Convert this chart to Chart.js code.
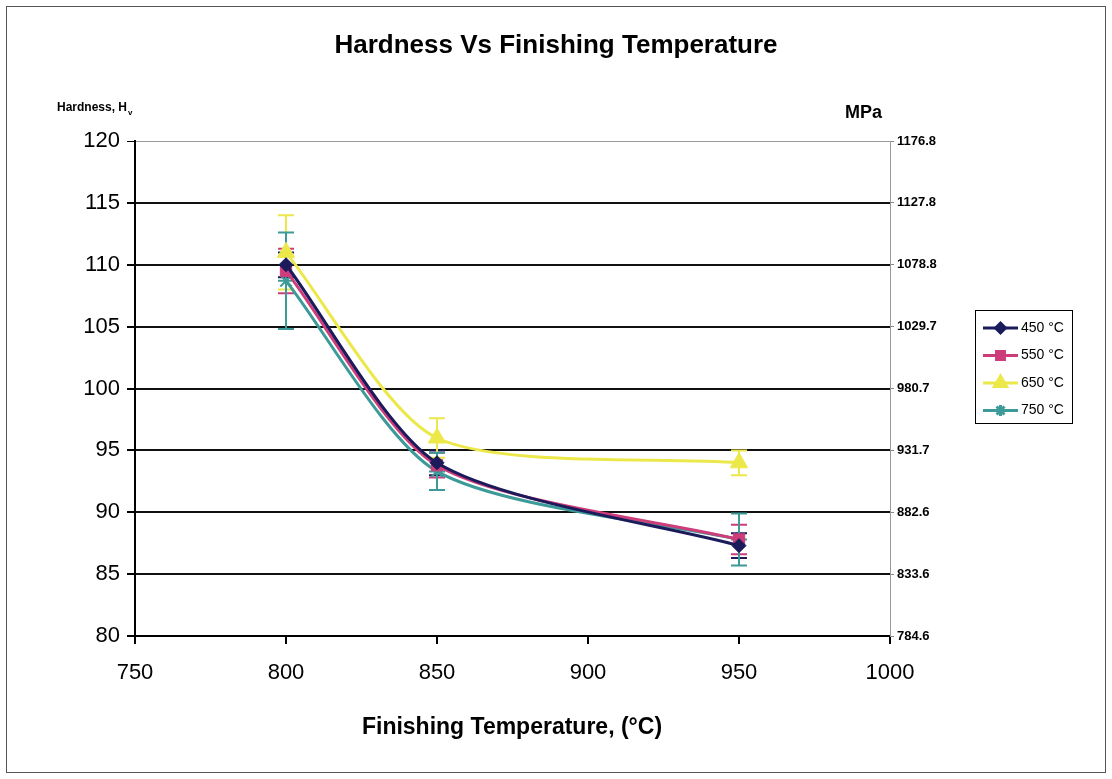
<!DOCTYPE html>
<html>
<head>
<meta charset="utf-8">
<script src="https://cdn.jsdelivr.net/npm/chart.js@4/dist/chart.umd.min.js"></script>
<style>
  html, body { margin: 0; padding: 0; background: #ffffff; }
  canvas { display: block; }
</style>
</head>
<body>
<canvas id="c" width="1112" height="779"></canvas>
<script>
// Finishing temperatures (°C) on the x axis
const finishTemps = [800, 850, 950];

// Mean hardness (Hv) per coiling temperature series
const hv450 = [110.0, 94.0, 87.3];
const hv550 = [109.5, 93.8, 87.8];
const hv650 = [111.0, 96.0, 94.0];
const hv750 = [108.7, 93.3, 87.8];

// Error bar half-widths (Hv)
const err450 = [1.0, 1.0, 1.0];
const err550 = [1.8, 1.0, 1.2];
const err650 = [3.0, 1.6, 1.0];
const err750 = [3.9, 1.5, 2.1];

// Series names
const seriesNames = ['450 °C', '550 °C', '650 °C', '750 °C'];

// Tick labels for the secondary (MPa) axis, bottom to top
const mpaLabels = ['784.6', '833.6', '882.6', '931.7', '980.7', '1029.7', '1078.8', '1127.8', '1176.8'];

const colors = ['#1b1b5c', '#cc3d7a', '#ece84a', '#3c9a98'];
const markers = ['rectRot', 'rect', 'triangle', 'star'];
const markerSizes = [7, 8, 10, 8];
const means = [hv450, hv550, hv650, hv750];
const errs = [err450, err550, err650, err750];

const datasets = means.map((vals, i) => ({
  label: seriesNames[i],
  data: finishTemps.map((t, j) => ({ x: t, y: vals[j] })),
  borderColor: colors[i],
  backgroundColor: colors[i],
  borderWidth: 3,
  tension: 0.25,
  pointStyle: markers[i],
  pointRadius: markerSizes[i],
  pointBorderWidth: i === 3 ? 2 : 1,
  pointBorderColor: colors[i],
  pointBackgroundColor: colors[i],
  errors: errs[i]
}));

const FONT = '"Liberation Sans", Arial, sans-serif';

const decorations = {
  id: 'decorations',
  beforeDatasetsDraw(chart) {
    // vertical error bars with caps, positioned through the scales
    const ctx = chart.ctx;
    const xs = chart.scales.x, ys = chart.scales.y;
    ctx.save();
    chart.data.datasets.forEach((ds) => {
      ctx.strokeStyle = ds.borderColor;
      ctx.lineWidth = 2;
      ds.data.forEach((p, j) => {
        const e = ds.errors[j];
        const px = xs.getPixelForValue(p.x);
        const top = ys.getPixelForValue(p.y + e);
        const bot = ys.getPixelForValue(p.y - e);
        ctx.beginPath();
        ctx.moveTo(px, top); ctx.lineTo(px, bot);
        ctx.moveTo(px - 8, top); ctx.lineTo(px + 8, top);
        ctx.moveTo(px - 8, bot); ctx.lineTo(px + 8, bot);
        ctx.stroke();
      });
    });
    ctx.restore();
  },
  afterDraw(chart) {
    const ctx = chart.ctx;
    ctx.save();
    // outer frame
    ctx.strokeStyle = '#555';
    ctx.lineWidth = 1;
    ctx.strokeRect(6.5, 6.5, 1099, 766);

    ctx.fillStyle = '#000';
    ctx.textBaseline = 'middle';
    ctx.textAlign = 'center';
    // chart title
    ctx.font = 'bold 26px ' + FONT;
    ctx.fillText('Hardness Vs Finishing Temperature', 556, 46);
    // x axis title
    ctx.font = 'bold 23px ' + FONT;
    ctx.fillText('Finishing Temperature, (°C)', 512, 728);

    // left axis caption with subscript
    ctx.textAlign = 'left';
    ctx.font = 'bold 12px ' + FONT;
    ctx.fillText('Hardness, H', 57, 108);
    const w = ctx.measureText('Hardness, H').width;
    ctx.font = 'bold 8px ' + FONT;
    ctx.fillText('v', 57 + w + 1, 113);

    // right axis caption
    ctx.font = 'bold 18px ' + FONT;
    ctx.fillText('MPa', 845, 113);

    // legend box
    const lx = 975, ly = 310, lw = 97, lh = 113;
    ctx.fillStyle = '#fff';
    ctx.fillRect(lx, ly, lw, lh);
    ctx.strokeStyle = '#000';
    ctx.lineWidth = 1;
    ctx.strokeRect(lx + 0.5, ly + 0.5, lw, lh);
    chart.data.datasets.forEach((ds, i) => {
      const cy = ly + 18 + i * 27.5;
      ctx.strokeStyle = ds.borderColor;
      ctx.lineWidth = 3;
      ctx.beginPath();
      ctx.moveTo(lx + 8, cy); ctx.lineTo(lx + 43, cy);
      ctx.stroke();
      Chart.helpers.drawPoint(ctx, {
        pointStyle: ds.pointStyle,
        radius: ds.pointRadius * 0.7,
        borderWidth: ds.pointBorderWidth,
        rotation: 0
      }, lx + 25.5, cy);
      ctx.fillStyle = ds.borderColor;
      ctx.fill();
      ctx.fillStyle = '#000';
      ctx.font = '14px ' + FONT;
      ctx.textAlign = 'left';
      ctx.fillText(ds.label, lx + 46, cy);
    });
    ctx.restore();
  }
};

new Chart(document.getElementById('c'), {
  type: 'line',
  data: { datasets },
  options: {
    responsive: false,
    devicePixelRatio: 1,
    animation: false,
    layout: { padding: { top: 141, left: 0, right: 0, bottom: 0 } },
    plugins: {
      legend: { display: false },
      title: { display: false },
      tooltip: { enabled: false }
    },
    scales: {
      x: {
        type: 'linear',
        min: 750, max: 1000,
        afterFit: (s) => { s.height = 143; },
        ticks: {
          stepSize: 50, color: '#000', font: { family: FONT, size: 22 }, padding: 16,
          callback: (v) => String(v)
        },
        grid: { drawOnChartArea: false, tickLength: 8, color: '#000', lineWidth: 2 },
        border: { color: '#000', width: 2 }
      },
      y: {
        position: 'left',
        min: 80, max: 120,
        afterFit: (s) => { s.width = 135; },
        ticks: { stepSize: 5, color: '#000', font: { family: FONT, size: 22 }, padding: 7 },
        grid: {
          tickLength: 8,
          color: (c) => (c.tick && c.tick.value === 120 ? '#9a9a9a' : '#111'),
          lineWidth: (c) => (c.tick && c.tick.value === 120 ? 1 : 2),
          tickColor: '#000'
        },
        border: { color: '#000', width: 2 }
      },
      y2: {
        position: 'right',
        min: 80, max: 120,
        afterFit: (s) => { s.width = 222; },
        ticks: {
          stepSize: 5, color: '#000', padding: 3,
          font: { family: FONT, size: 13, weight: 'bold' },
          callback: (v, i) => mpaLabels[i]
        },
        grid: { drawOnChartArea: false, tickLength: 4, color: '#888' },
        border: { color: '#999', width: 1 }
      }
    }
  },
  plugins: [decorations]
});
</script>
</body>
</html>
